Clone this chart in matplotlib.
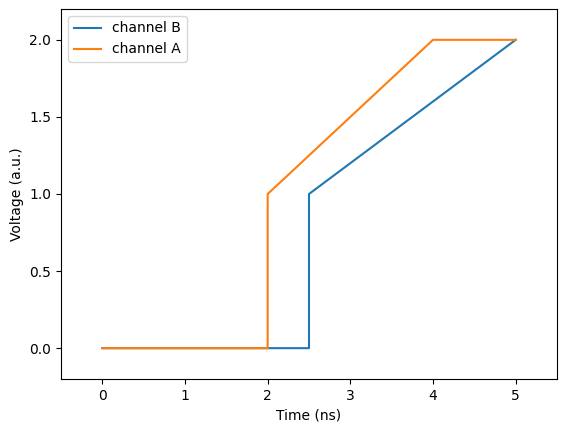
import matplotlib
matplotlib.use("Agg")
import matplotlib.pyplot as plt

# Breakpoints
time_b = [0.0, 2.5, 2.5, 5.0]
volt_b = [0.0, 0.0, 1.0, 2.0]
time_a = [0.0, 2.0, 2.0, 4.0, 5.0]
volt_a = [0.0, 0.0, 1.0, 2.0, 2.0]

fig = plt.figure(figsize=(5.67, 4.32), dpi=100)
ax = fig.add_axes([61/567, (432-379)/432, 496/567, 370/432])
ax.plot(time_b, volt_b, color="#1f77b4", label="channel B")
ax.plot(time_a, volt_a, color="#ff7f0e", label="channel A")
ax.set_xlim(-0.5, 5.5)
ax.set_ylim(-0.2, 2.2)
ax.set_xticks([0, 1, 2, 3, 4, 5])
ax.set_yticks([0.0, 0.5, 1.0, 1.5, 2.0])
ax.set_xlabel("Time (ns)")
ax.set_ylabel("Voltage (a.u.)")
ax.legend(loc="upper left")
fig.savefig("out.png", dpi=100)
